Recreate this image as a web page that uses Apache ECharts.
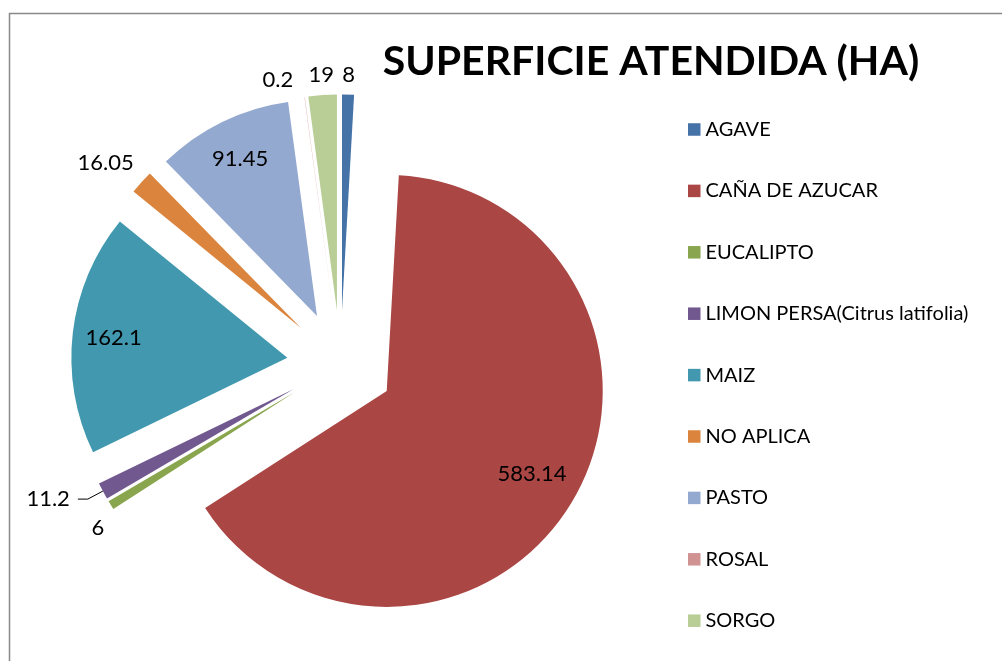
<!DOCTYPE html>
<html><head><meta charset="utf-8">
<script src="https://cdn.jsdelivr.net/npm/echarts@6/dist/echarts.min.js"></script>
<style>html,body{margin:0;padding:0;background:#fff}#c{width:1002px;height:661px}</style>
</head><body><div id="c"></div>
<script>
const categories = ['AGAVE', 'CAÑA DE AZUCAR', 'EUCALIPTO', 'LIMON PERSA(Citrus latifolia)', 'MAIZ', 'NO APLICA', 'PASTO', 'ROSAL', 'SORGO'];
const values = [8, 583.14, 6, 11.2, 162.1, 16.05, 91.45, 0.2, 19];
const titleText = 'SUPERFICIE ATENDIDA (HA)';

const colors = ['#4572A7', '#AA4643', '#89A54E', '#71588F', '#4198AF', '#DB843D', '#93A9CF', '#D19392', '#B9CD96'];
const FONT = 'Lato';
const CENTER = [340.5, 364];
const R = 216;
const OFFSET = 53.5;
const innerIdx = [1, 4, 6];
const outerIdx = [0, 2, 5, 7, 8];
const leaderIdx = [3];
const labelShift = { 1: [-6, -5], 2: [4, 12], 5: [-21, -6], 7: [-24, 3] };

const mainData = categories.map((n, i) => ({
  name: n, value: values[i], selected: true,
  label: leaderIdx.includes(i) ? {
    show: true, position: 'outside', formatter: '{c}', color: '#000',
    fontFamily: FONT, fontSize: 22, distanceToLabelLine: 8, padding: [0, 0, 14, 0]
  } : { show: false },
  labelLine: leaderIdx.includes(i) ? { show: true, length: 17, length2: 10, lineStyle: { color: '#000', width: 1 } } : { show: false }
}));

function labelData(showIdx) {
  return categories.map((n, i) => ({
    name: n, value: values[i], selected: true,
    label: { show: showIdx.includes(i) }
  }));
}

function labelSeries(radius, showIdx) {
  return {
    type: 'pie', center: CENTER, radius: radius, startAngle: 90, clockwise: true,
    selectedMode: 'multiple', selectedOffset: OFFSET, silent: true, avoidLabelOverlap: false,
    itemStyle: { color: 'rgba(0,0,0,0)', borderWidth: 0 },
    label: { position: 'inside', formatter: '{c}', color: '#000', fontFamily: FONT, fontSize: 22 },
    labelLine: { show: false },
    emphasis: { disabled: true },
    labelLayout: function (p) {
      const s = labelShift[p.dataIndex];
      return s ? { dx: s[0], dy: s[1] } : {};
    },
    data: labelData(showIdx)
  };
}

const chart = echarts.init(document.getElementById('c'));
chart.setOption({
  animation: false,
  color: colors,
  graphic: [
    { type: 'polyline', shape: { points: [[9.5, 700], [9.5, 13.5], [1010, 13.5]] }, style: { stroke: '#898989', lineWidth: 1.5, fill: null }, silent: true },
    { type: 'text', x: 651, y: 62, style: { text: titleText, font: 'bold 41px Lato', fill: '#000', textAlign: 'center', textVerticalAlign: 'middle' }, silent: true }
  ],
  legend: {
    orient: 'vertical', left: 688, top: 119.5, padding: 0,
    icon: 'rect', itemWidth: 12.5, itemHeight: 12.5, itemGap: 41.4,
    textStyle: { fontFamily: FONT, fontSize: 20, color: '#000', lineHeight: 20 },
    data: categories, selectedMode: false
  },
  series: [
    {
      type: 'pie', center: CENTER, radius: R, startAngle: 90, clockwise: true,
      selectedMode: 'multiple', selectedOffset: OFFSET, avoidLabelOverlap: false,
      itemStyle: { borderWidth: 0 },
      emphasis: { disabled: true },
      data: mainData
    },
    labelSeries([128, 216], innerIdx),
    labelSeries([216, 250], outerIdx)
  ]
});
</script></body></html>
